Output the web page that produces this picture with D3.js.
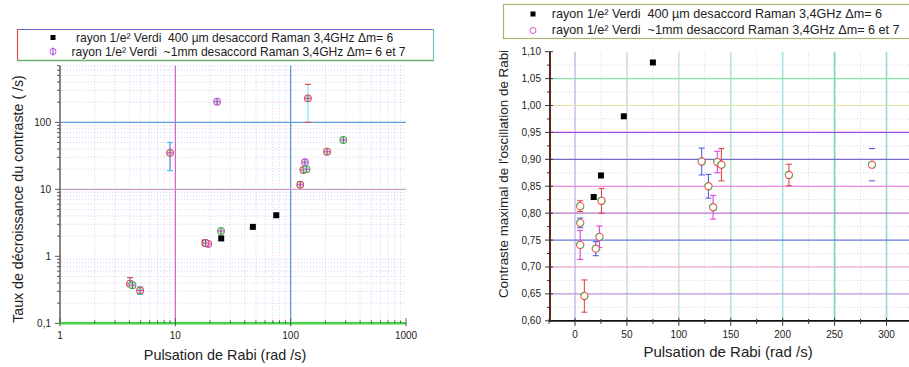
<!DOCTYPE html>
<html><head><meta charset="utf-8">
<script src="https://cdn.jsdelivr.net/npm/d3@7"></script>
<style>body{margin:0;background:#fff} text{font-family:"Liberation Sans",Arial,sans-serif;fill:#222;white-space:pre}</style>
</head><body><svg id="c" width="909" height="367"></svg>
<script>
// ---------- DATA ----------
const legendLabels = [
  "rayon 1/e\u00B2 Verdi  400 \u00B5m desaccord Raman 3,4GHz \u0394m= 6",
  "rayon 1/e\u00B2 Verdi  ~1mm desaccord Raman 3,4GHz \u0394m= 6 et 7"
];
const xTitle = "Pulsation de Rabi (rad /s)";
const yTitleLeft = "Taux de d\u00E9croissance du contraste ( /s)";
const yTitleRight = "Contraste maximal de l'oscillation de Rabi";

// left chart (log-log)
const leftXTicks = [1, 10, 100, 1000];
const leftXTickLabels = ["1", "10", "100", "1000"];
const leftYTicks = [0.1, 1, 10, 100];
const leftYTickLabels = ["0,1", "1", "10", "100"];
const leftSqX = [18, 25, 47, 75];
const leftSqY = [1.6, 1.85, 2.75, 4.1];
const leftCirX = [4.05, 4.25, 4.95, 19.3, 18.3, 24.9, 9.0, 23, 141, 286, 207, 133, 129, 137, 121];
const leftCirY = [0.39, 0.37, 0.31, 1.53, 1.58, 2.39, 35, 203, 228, 54.5, 36.4, 25.3, 19.4, 20, 11.7];
const leftErrUp = [0.09, 0.02, 0.04, 0.12, 0.1, 0.1, 15, 0, 140, 0, 0, 0, 0, 0, 0];
const leftErrDn = [0.02, 0.02, 0.04, 0.12, 0.15, 0.1, 16, 0, 128, 0, 0, 0, 0, 0, 0];

// right chart (linear)
const rightXTicks = [0, 50, 100, 150, 200, 250, 300];
const rightYTicks = [0.60, 0.65, 0.70, 0.75, 0.80, 0.85, 0.90, 0.95, 1.00, 1.05, 1.10];
const rightSqX = [18, 25, 47, 75];
const rightSqY = [0.83, 0.87, 0.98, 1.08];
const rightCirX = [5, 5, 5, 9, 20, 23.5, 25.5, 122, 137, 141, 128.5, 133, 206, 286];
const rightCirY = [0.813, 0.782, 0.741, 0.646, 0.734, 0.756, 0.823, 0.896, 0.895, 0.890, 0.850, 0.811, 0.871, 0.890];
const rightErr  = [0.010, 0.009, 0.027, 0.030, 0.013, 0.020, 0.023, 0.025, 0.020, 0.030, 0.022, 0.022, 0.020, 0.030];

// ---------- DRAW ----------
const svg = d3.select("#c");

function dotted(g, x1, y1, x2, y2) {
  const cols = ["#f4b0ec", "#a8e8f4", "#d0c8f4"];
  cols.forEach((c, i) => {
    g.append("line").attr("x1", x1).attr("y1", y1).attr("x2", x2).attr("y2", y2)
      .attr("stroke", c).attr("stroke-width", 1).attr("stroke-opacity", 0.75)
      .attr("stroke-dasharray", "1.2,7.8").attr("stroke-dashoffset", -i * 3);
  });
}

// ===== LEFT CHART =====
const xL = d3.scaleLog().domain([1, 1000]).range([60, 406]);
const yL = d3.scaleLog().domain([0.1, 700]).range([323.3, 65.7]);
const gL = svg.append("g");

// minor grid
xL.ticks().filter(v => !leftXTicks.includes(v)).forEach(v => dotted(gL, xL(v), 65.7, xL(v), 322));
yL.ticks().filter(v => !leftYTicks.includes(v)).forEach(v => dotted(gL, 61, yL(v), 406, yL(v)));
// major grid
gL.append("line").attr("x1", xL(10)).attr("x2", xL(10)).attr("y1", 65.7).attr("y2", 323).attr("stroke", "#d45cc8").attr("stroke-width", 1.2);
gL.append("line").attr("x1", xL(100)).attr("x2", xL(100)).attr("y1", 65.7).attr("y2", 323).attr("stroke", "#5a8ee0").attr("stroke-width", 1.2);
gL.append("line").attr("x1", 61).attr("x2", 406).attr("y1", yL(100)).attr("y2", yL(100)).attr("stroke", "#5aa0e0").attr("stroke-width", 1.2);
gL.append("line").attr("x1", 61).attr("x2", 406).attr("y1", yL(10)).attr("y2", yL(10)).attr("stroke", "#c8a0cc").attr("stroke-width", 1.2);

// axes lines
gL.append("line").attr("x1", 60).attr("x2", 60).attr("y1", 65.7).attr("y2", 324).attr("stroke", "#8c8484").attr("stroke-width", 2);
gL.append("line").attr("x1", 59).attr("x2", 406).attr("y1", 323.3).attr("y2", 323.3).attr("stroke", "#44d444").attr("stroke-width", 2.5);

// ticks
yL.ticks().forEach(v => {
  const maj = leftYTicks.includes(v);
  gL.append("line").attr("x1", 60 - (maj ? 5 : 3)).attr("x2", 60).attr("y1", yL(v)).attr("y2", yL(v)).attr("stroke", "#555").attr("stroke-width", 1);
});
xL.ticks().forEach(v => {
  const maj = leftXTicks.includes(v);
  gL.append("line").attr("x1", xL(v)).attr("x2", xL(v)).attr("y1", 323.3 - (maj ? 5 : 3)).attr("y2", 323.3 + (maj ? 3 : 0)).attr("stroke", "#555").attr("stroke-width", 1);
});
leftYTicks.forEach((v, i) => gL.append("text").attr("x", 51).attr("y", yL(v) + 3.5).attr("text-anchor", "end").attr("font-size", 10).text(leftYTickLabels[i]));
leftXTicks.forEach((v, i) => gL.append("text").attr("x", xL(v)).attr("y", 339).attr("text-anchor", "middle").attr("font-size", 10).text(leftXTickLabels[i]));

// titles
gL.append("text").attr("x", 225).attr("y", 360).attr("text-anchor", "middle").attr("font-size", 14.4).text(xTitle);
gL.append("text").attr("transform", "translate(23,199) rotate(-90)").attr("text-anchor", "middle").attr("font-size", 14.2).text(yTitleLeft);

// error bars
const errColsL = ["#e04848", "#6070e0", "#40c8e0", "#e0a030"];
leftCirX.forEach((x, i) => {
  if (leftErrUp[i] === 0 && leftErrDn[i] === 0) return;
  const px = xL(x), y1 = yL(leftCirY[i] + leftErrUp[i]), y2 = yL(leftCirY[i] - leftErrDn[i]);
  const c = errColsL[i % errColsL.length];
  gL.append("line").attr("x1", px).attr("x2", px).attr("y1", y1).attr("y2", y2).attr("stroke", i === 8 ? "#90f0f0" : "#8890e8").attr("stroke-width", 1.5);
  gL.append("line").attr("x1", px - 3).attr("x2", px + 3).attr("y1", y1).attr("y2", y1).attr("stroke", c).attr("stroke-width", 1.2);
  gL.append("line").attr("x1", px - 3).attr("x2", px + 3).attr("y1", y2).attr("y2", y2).attr("stroke", c).attr("stroke-width", 1.2);
});
// squares
leftSqX.forEach((x, i) => gL.append("rect").attr("x", xL(x) - 3).attr("y", yL(leftSqY[i]) - 3).attr("width", 6).attr("height", 6).attr("fill", "#000"));
// circles
function phi(g, cx, cy, i) {
  const strokes = ["#e05050", "#50b050", "#e05050", "#e050e0"];
  g.append("circle").attr("cx", cx).attr("cy", cy).attr("r", 3.4).attr("fill", "#d8e8c0").attr("stroke", strokes[i % 4]).attr("stroke-width", 1.1);
  g.append("line").attr("x1", cx - 3.4).attr("x2", cx + 3.4).attr("y1", cy).attr("y2", cy).attr("stroke", "#e040c0").attr("stroke-width", 1);
  g.append("line").attr("x1", cx).attr("x2", cx).attr("y1", cy - 3.4).attr("y2", cy + 3.4).attr("stroke", "#4060e0").attr("stroke-width", 1);
}
leftCirX.forEach((x, i) => phi(gL, xL(x), yL(leftCirY[i]), i));

// legend left
const lg = svg.append("g");
lg.append("rect").attr("x", 17.5).attr("y", 29.5).attr("width", 416).attr("height", 31).attr("fill", "#fff");
lg.append("line").attr("x1", 17).attr("x2", 434).attr("y1", 29.5).attr("y2", 29.5).attr("stroke", "#6868c8").attr("stroke-width", 1.2);
lg.append("line").attr("x1", 17.5).attr("x2", 17.5).attr("y1", 29).attr("y2", 61).attr("stroke", "#e05050").attr("stroke-width", 1.2);
lg.append("line").attr("x1", 17).attr("x2", 434).attr("y1", 60.6).attr("y2", 60.6).attr("stroke", "#70b070").attr("stroke-width", 1.5);
lg.append("line").attr("x1", 433.5).attr("x2", 433.5).attr("y1", 29).attr("y2", 61).attr("stroke", "#70c0c0").attr("stroke-width", 1.2);
lg.append("rect").attr("x", 50.5).attr("y", 35).attr("width", 5).attr("height", 5).attr("fill", "#000");
lg.append("circle").attr("cx", 53).attr("cy", 51.5).attr("r", 3).attr("fill", "none").attr("stroke", "#d040d0").attr("stroke-width", 1);
lg.append("line").attr("x1", 53).attr("x2", 53).attr("y1", 47.5).attr("y2", 55.5).attr("stroke", "#6060e0").attr("stroke-width", 1);
lg.append("text").attr("x", 76).attr("y", 41.5).attr("font-size", 12.1).text(legendLabels[0]);
lg.append("text").attr("x", 71.5).attr("y", 55.8).attr("font-size", 12.1).text(legendLabels[1]);

// ===== RIGHT CHART =====
const xR = d3.scaleLinear().domain([-24, 321]).range([550.1, 908.3]);
const yR = d3.scaleLinear().domain([0.6, 1.1]).range([320.8, 51.7]);
const gR = svg.append("g");
const yTopR = yR(1.1), yBotR = yR(0.6);

// minor dotted grid
[25, 75, 125, 175, 225, 275].forEach(v => dotted(gR, xR(v), yTopR, xR(v), yBotR));
d3.range(0.625, 1.1, 0.05).forEach(v => dotted(gR, 551, yR(v), 909, yR(v)));
// vertical major
const vCols = ["#c8a8dc", "#d0e0dc", "#d0e8d0", "#b8e8d0", "#a8e4e4", "#80d8b0", "#98dcd4"];
rightXTicks.forEach((v, i) => gR.append("line").attr("x1", xR(v)).attr("x2", xR(v)).attr("y1", yTopR).attr("y2", yBotR).attr("stroke", vCols[i]).attr("stroke-width", i === 0 ? 1.2 : 1.7));
// horizontal major
const hCols = { "0.65": "#b898d8", "0.70": "#e890c8", "0.75": "#6878d8", "0.80": "#b878c8", "0.85": "#e868d8", "0.90": "#7868c8", "0.95": "#a848d8", "1.00": "#e4e4a8", "1.05": "#88e4a8" };
rightYTicks.forEach(v => {
  const k = v.toFixed(2);
  if (hCols[k]) gR.append("line").attr("x1", 551).attr("x2", 909).attr("y1", yR(v)).attr("y2", yR(v)).attr("stroke", hCols[k]).attr("stroke-width", 1.2);
});
// axes
gR.append("line").attr("x1", 550).attr("x2", 550).attr("y1", yTopR).attr("y2", yBotR + 1).attr("stroke", "#5a2a18").attr("stroke-width", 2);
gR.append("line").attr("x1", 549).attr("x2", 909).attr("y1", yBotR).attr("y2", yBotR).attr("stroke", "#111").attr("stroke-width", 1.8);
// ticks
d3.range(0.6, 1.1001, 0.025).forEach((v, i) => {
  const maj = i % 2 === 0;
  gR.append("line").attr("x1", 550 - (maj ? 5 : 3)).attr("x2", 550 + (maj ? 3 : 0)).attr("y1", yR(v)).attr("y2", yR(v)).attr("stroke", "#333").attr("stroke-width", 1);
});
d3.range(-25, 321, 25).forEach(v => {
  const maj = v % 50 === 0;
  if (xR(v) < 549) return;
  gR.append("line").attr("x1", xR(v)).attr("x2", xR(v)).attr("y1", yBotR - (maj ? 3 : 2)).attr("y2", yBotR + (maj ? 5 : 3)).attr("stroke", "#333").attr("stroke-width", 1);
});
rightYTicks.forEach(v => gR.append("text").attr("x", 541).attr("y", yR(v) + 3.5).attr("text-anchor", "end").attr("font-size", 10).text(v.toFixed(2).replace(".", ",")));
rightXTicks.forEach(v => gR.append("text").attr("x", xR(v)).attr("y", 337.5).attr("text-anchor", "middle").attr("font-size", 10).text(v));
gR.append("text").attr("x", 728).attr("y", 357.3).attr("text-anchor", "middle").attr("font-size", 15).text(xTitle);
gR.append("text").attr("transform", "translate(507.5,174) rotate(-90)").attr("text-anchor", "middle").attr("font-size", 13.4).text(yTitleRight);

// error bars
const errColsR = ["#e04848", "#5060e0", "#e040e0"];
rightCirX.forEach((x, i) => {
  const px = xR(x), y1 = yR(rightCirY[i] + rightErr[i]), y2 = yR(rightCirY[i] - rightErr[i]);
  const c = errColsR[i % 3];
  gR.append("line").attr("x1", px).attr("x2", px).attr("y1", y1).attr("y2", y2).attr("stroke", i === 13 ? "none" : c).attr("stroke-width", 1.1);
  gR.append("line").attr("x1", px - 3).attr("x2", px + 3).attr("y1", y1).attr("y2", y1).attr("stroke", i === 13 ? "#5060e0" : c).attr("stroke-width", 1.1);
  gR.append("line").attr("x1", px - 3).attr("x2", px + 3).attr("y1", y2).attr("y2", y2).attr("stroke", i === 13 ? "#5060e0" : c).attr("stroke-width", 1.1);
});
rightSqX.forEach((x, i) => gR.append("rect").attr("x", xR(x) - 3).attr("y", yR(rightSqY[i]) - 3).attr("width", 6).attr("height", 6).attr("fill", "#000"));
rightCirX.forEach((x, i) => {
  const cx = xR(x), cy = yR(rightCirY[i]);
  gR.append("circle").attr("cx", cx).attr("cy", cy).attr("r", 3.6).attr("fill", "#fff").attr("stroke", "#e85050").attr("stroke-width", 1.1);
  gR.append("circle").attr("cx", cx).attr("cy", cy).attr("r", 3.6).attr("fill", "none").attr("stroke", "#50c050").attr("stroke-width", 1.1).attr("stroke-dasharray", "4,7.3");
});

// legend right
const rg = svg.append("g");
rg.append("rect").attr("x", 503.5).attr("y", 4.5).attr("width", 410).attr("height", 34).attr("fill", "#fff").attr("stroke", "#a8b478").attr("stroke-width", 1.2);
rg.append("rect").attr("x", 530.5).attr("y", 11.5).attr("width", 5).attr("height", 5).attr("fill", "#000");
rg.append("circle").attr("cx", 533).attr("cy", 30.5).attr("r", 3).attr("fill", "none").attr("stroke", "#d050c8").attr("stroke-width", 1);
rg.append("text").attr("x", 551.7).attr("y", 17.5).attr("font-size", 12.6).text(legendLabels[0]);
rg.append("text").attr("x", 551.7).attr("y", 33.5).attr("font-size", 12.6).text(legendLabels[1]);
</script></body></html>
